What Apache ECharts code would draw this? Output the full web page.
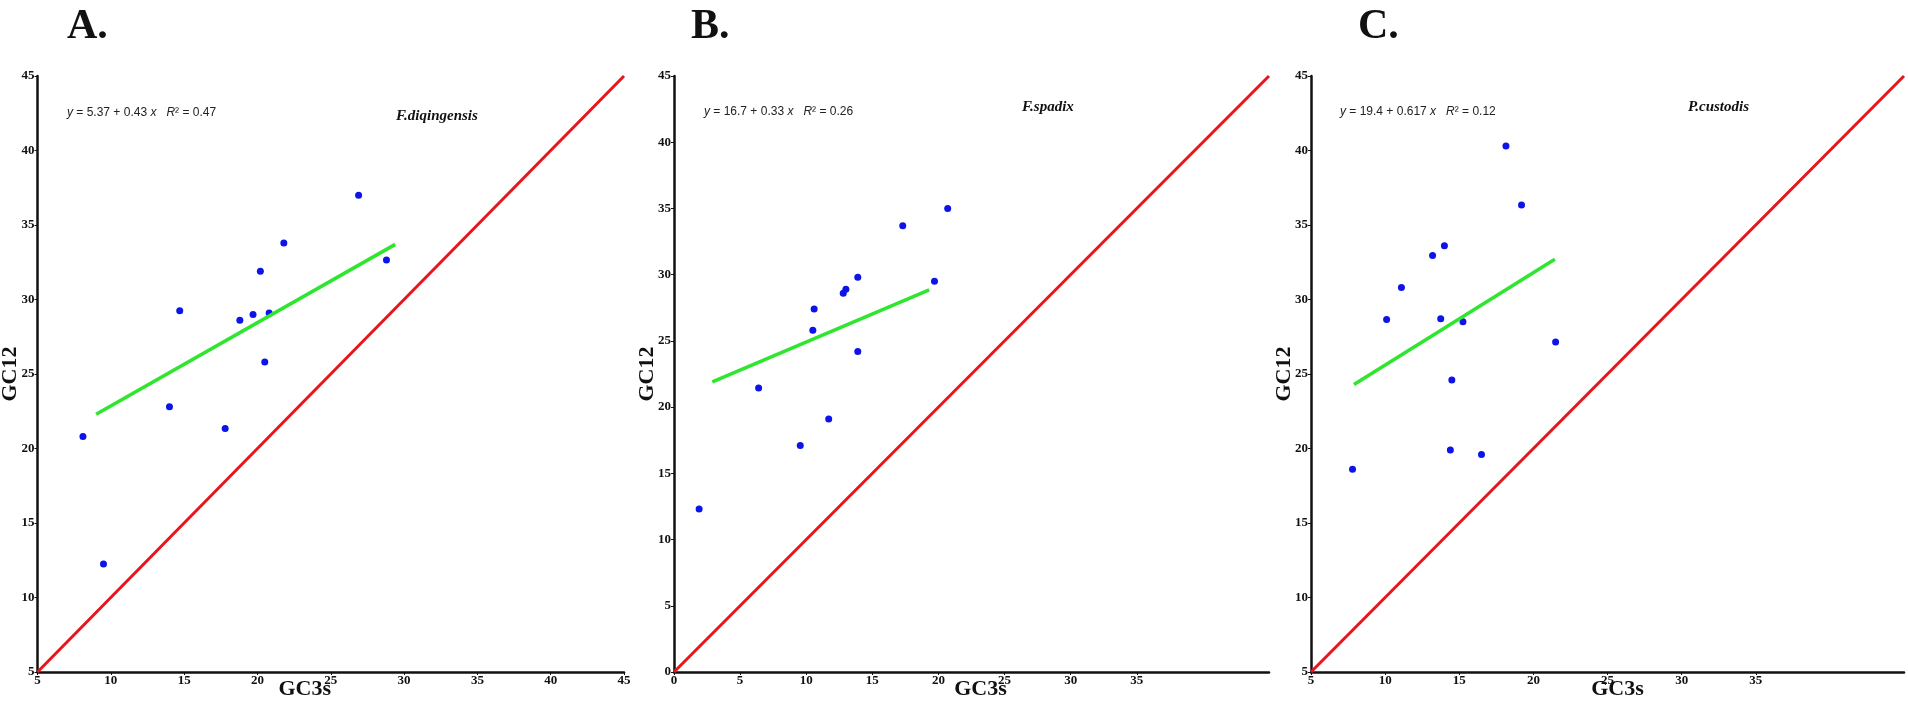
<!DOCTYPE html>
<html lang="en">
<head>
<meta charset="UTF-8">
<title>GC12 vs GC3s neutrality plots</title>
<script src="https://cdn.jsdelivr.net/npm/echarts@6/dist/echarts.min.js"></script>
<style>
  html, body { margin: 0; padding: 0; background: #fff; }
  #main { width: 1908px; height: 702px; }
</style>
</head>
<body>
<div id="main"></div>
<script>
// A. F.diqingensis
const aX = [26.9, 21.8, 28.8, 20.2, 14.7, 18.8, 19.7, 20.8, 20.5, 14.0, 17.8, 8.1, 9.5];
const aY = [37.0, 33.8, 32.65, 31.9, 29.25, 28.6, 29.0, 29.1, 25.8, 22.8, 21.35, 20.8, 12.25];
const aFitX = [9.0, 29.4];
const aFitY = [22.3, 33.7];

// B. F.spadix
const bX = [20.7, 17.3, 13.9, 19.7, 13.0, 12.8, 10.6, 10.5, 13.9, 6.4, 11.7, 9.55, 1.9];
const bY = [35.0, 33.7, 29.8, 29.5, 28.9, 28.6, 27.4, 25.8, 24.2, 21.45, 19.1, 17.1, 12.3];
const bFitX = [2.9, 19.3];
const bFitY = [21.9, 28.85];

// C. P.custodis
const cX = [18.15, 19.2, 14.0, 13.2, 11.1, 10.1, 13.75, 15.25, 21.5, 14.5, 14.4, 16.5, 7.8];
const cY = [40.3, 36.35, 33.6, 32.95, 30.8, 28.65, 28.7, 28.5, 27.15, 24.6, 19.9, 19.6, 18.6];
const cFitX = [7.9, 21.45];
const cFitY = [24.3, 32.7];

// axis ranges and tick labels
const axisMax = 45;
const aMin = 5, bMin = 0, cMin = 5;
const ticksA = [5, 10, 15, 20, 25, 30, 35, 40, 45];
const ticksB = [0, 5, 10, 15, 20, 25, 30, 35];
const ticksC = [5, 10, 15, 20, 25, 30, 35];

const letters = ['A.', 'B.', 'C.'];
const species = ['F.diqingensis', 'F.spadix', 'P.custodis'];
const equations = [
  '{i|y} = 5.37 + 0.43 {i|x}   {i|R}\u00b2 = 0.47',
  '{i|y} = 16.7 + 0.33 {i|x}   {i|R}\u00b2 = 0.26',
  '{i|y} = 19.4 + 0.617 {i|x}   {i|R}\u00b2 = 0.12'
];

const serif = 'Liberation Serif, Times New Roman, serif';
const sans = 'Liberation Sans, Arial, sans-serif';

const myChart = echarts.init(document.getElementById('main'));

const grids = [
  { left: 37.5, top: 76, width: 586.5, height: 596 },
  { left: 674, top: 76, width: 595, height: 596 },
  { left: 1311, top: 76, width: 593, height: 596 }
].map(g => Object.assign({ containLabel: false, outerBoundsMode: 'none' }, g));

function pairs(xs, ys) {
  return xs.map((x, i) => [x, ys[i]]);
}

const axisCommon = {
  type: 'value',
  max: axisMax,
  interval: 5,
  nameMoveOverlap: false,
  splitLine: { show: false },
  axisLine: { show: true, onZero: false, lineStyle: { color: '#111', width: 2.5 } },
  axisTick: { show: true, length: 3, lineStyle: { color: '#111', width: 1 } },
  axisLabel: { color: '#111', fontFamily: serif, fontWeight: 'bold', fontSize: 13, margin: 3 }
};

function xAxisFor(i, min, ticks, namePad) {
  return Object.assign({}, axisCommon, {
    gridIndex: i,
    min: min,
    name: 'GC3s',
    nameLocation: 'middle',
    nameGap: 6,
    nameTextStyle: {
      color: '#111', fontFamily: serif, fontWeight: 'bold', fontSize: 22,
      verticalAlign: 'top', padding: namePad
    },
    axisTick: Object.assign({}, axisCommon.axisTick, { customValues: ticks }),
    axisLabel: Object.assign({}, axisCommon.axisLabel, { customValues: ticks, margin: 2 })
  });
}

function yAxisFor(i, min) {
  return Object.assign({}, axisCommon, {
    gridIndex: i,
    min: min,
    name: 'GC12',
    nameLocation: 'middle',
    nameGap: 16,
    nameTextStyle: { color: '#111', fontFamily: serif, fontWeight: 'bold', fontSize: 22 }
  });
}

const panels = [
  { x: aX, y: aY, fx: aFitX, fy: aFitY, min: aMin },
  { x: bX, y: bY, fx: bFitX, fy: bFitY, min: bMin },
  { x: cX, y: cY, fx: cFitX, fy: cFitY, min: cMin }
];

const series = [];
panels.forEach((p, i) => {
  series.push({
    type: 'line',
    xAxisIndex: i, yAxisIndex: i,
    data: [[p.min, p.min], [axisMax, axisMax]],
    showSymbol: false,
    lineStyle: { color: '#e8151b', width: 3 },
    silent: true
  });
  series.push({
    type: 'line',
    xAxisIndex: i, yAxisIndex: i,
    data: pairs(p.fx, p.fy),
    showSymbol: false,
    lineStyle: { color: '#2ee62e', width: 3.5 },
    silent: true
  });
  series.push({
    type: 'scatter',
    xAxisIndex: i, yAxisIndex: i,
    data: pairs(p.x, p.y),
    symbolSize: 7,
    itemStyle: { color: '#0d14e8', opacity: 1 }
  });
});

// text positions (pixels)
const letterPos = [[67, 6], [691, 6], [1358, 6]];
const eqPos = [[67, 114], [704, 113], [1340, 113]];
const spPos = [[396, 117], [1022, 108], [1688, 108]];

const graphic = [];
letters.forEach((t, i) => {
  graphic.push({
    type: 'text', left: letterPos[i][0], top: letterPos[i][1],
    style: { text: t, font: 'bold 42px ' + serif, fill: '#111' }
  });
  graphic.push({
    type: 'text', left: eqPos[i][0], top: eqPos[i][1] - 7,
    style: {
      text: equations[i], fontSize: 12, fontFamily: sans, fill: '#222',
      rich: { i: { fontStyle: 'italic', fontSize: 12, fontFamily: sans, fill: '#222' } }
    }
  });
  graphic.push({
    type: 'text', left: spPos[i][0], top: spPos[i][1] - 8,
    style: { text: species[i], font: 'italic bold 15px ' + serif, fill: '#111' }
  });
});

const option = {
  backgroundColor: '#fff',
  animation: false,
  grid: grids,
  xAxis: [
    xAxisFor(0, aMin, ticksA, [0, 52, 0, 0]),
    xAxisFor(1, bMin, ticksB, [0, 0, 0, 18]),
    xAxisFor(2, cMin, ticksC, [0, 0, 0, 20])
  ],
  yAxis: [yAxisFor(0, aMin), yAxisFor(1, bMin), yAxisFor(2, cMin)],
  series: series,
  graphic: graphic
};

myChart.setOption(option);
</script>
</body>
</html>
